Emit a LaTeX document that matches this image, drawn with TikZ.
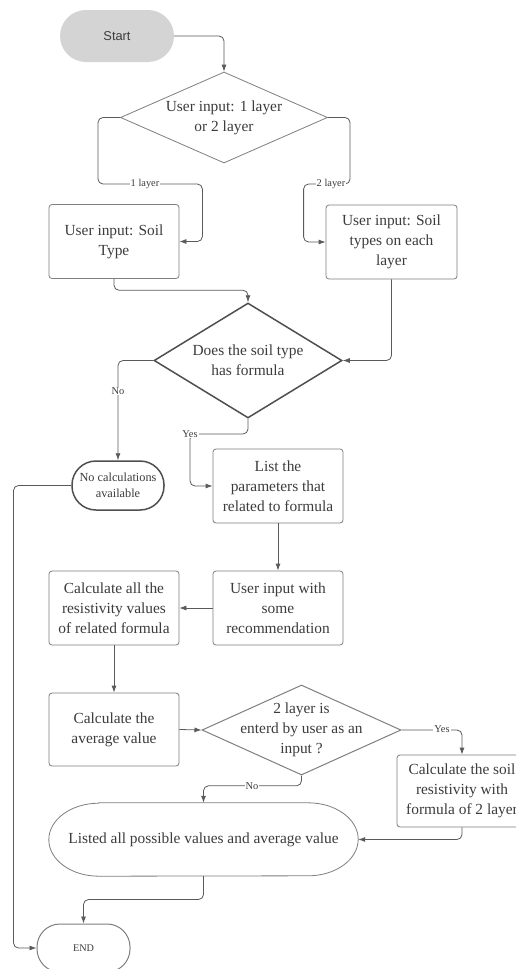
\documentclass[tikz,border=0pt]{standalone}
\usepackage{fontspec}
\setmainfont{Liberation Serif}
\setsansfont{Liberation Sans}
\usetikzlibrary{shapes.geometric,arrows.meta}
\definecolor{txt}{HTML}{3C3C3C}
\definecolor{boxc}{HTML}{7F7F7F}
\definecolor{darkc}{HTML}{4F4F4F}
\definecolor{linec}{HTML}{5A5A5A}
\definecolor{startgray}{HTML}{D4D4D4}
\tikzset{
  base/.style={font=\fontsize{15.4}{20}\selectfont, text=txt, align=center},
  box/.style={base, draw=boxc, line width=0.8pt, rounded corners=3pt,
    minimum width=130pt, minimum height=74pt, inner sep=0pt},
  dia/.style={diamond, draw=boxc, line width=0.8pt, inner sep=0pt},
  dtext/.style={base},
  arr/.style={draw=linec, line width=0.8pt, rounded corners=5pt,
    -{Latex[length=7pt,width=5pt]}},
  lbl/.style={font=\fontsize{10.4}{12}\selectfont, text=txt, fill=white,
    inner sep=1pt},
}
\begin{document}
\begin{tikzpicture}[x=1pt,y=1pt]
\fill[white] (0,0) rectangle (516,-969);
\useasboundingbox (0,0) rectangle (516,-969);

% terminals
\node[fill=startgray, rounded corners=26pt, minimum width=114pt, minimum height=52pt,
  font=\sffamily\fontsize{12.8}{15}\selectfont, text=txt] (start) at (117,-36) {Start};

% decision 1
\node[dia, minimum width=207pt, minimum height=91pt,
  label={[dtext]center:{User input: 1 layer\\or 2 layer}}] (d1) at (224,-117.5) {};

\node[box] (b1) at (114,-241.5) {User input: Soil\\Type};
\node[box, minimum width=131pt] (b2) at (391.5,-242) {User input: Soil\\types on each\\layer};

% decision 2
\node[dia, draw=darkc, line width=1.5pt, minimum width=188pt, minimum height=115pt,
  label={[dtext]center:{Does the soil type\\has formula}}] (d2) at (248,-360.5) {};

\node[draw=darkc, line width=1.5pt, rounded corners=24pt, minimum width=92pt,
  minimum height=49pt, inner sep=0pt, align=center, text=txt,
  font=\fontsize{12.3}{16}\selectfont] (nocalc) at (118,-485.5) {No calculations\\available};

\node[box] (b3) at (278,-486) {List the\\parameters that\\related to formula};
\node[box] (b4) at (278,-608) {User input with\\some\\recommendation};
\node[box] (b5) at (114,-608) {Calculate all the\\resistivity values\\of related formula};
\node[box, minimum height=73pt] (b6) at (114,-729.5) {Calculate the\\average value};

% decision 3
\node[dia, line width=1pt, minimum width=199pt, minimum height=90pt,
  label={[dtext]center:{2 layer is\\enterd by user as an\\input ?}}] (d3) at (301.5,-730) {};

\node[box, minimum height=72pt] (b7) at (462,-791) {Calculate the soil\\resistivity with\\formula of 2 layer};

% oval
\node[base, minimum width=309pt, minimum height=73pt, inner sep=0pt] (oval) at (203.5,-839.5)
  {Listed all possible values and average value};
\draw[draw=boxc, line width=0.8pt]
  ([xshift=50pt]oval.north west) -- ([xshift=-50pt]oval.north east)
  arc[start angle=90, end angle=-90, x radius=50pt, y radius=36.5pt]
  -- ([xshift=50pt]oval.south west)
  arc[start angle=270, end angle=90, x radius=50pt, y radius=36.5pt] -- cycle;

\node[draw=boxc, line width=1pt, rounded corners=23pt, minimum width=93pt,
  minimum height=48pt, inner sep=0pt, text=txt,
  font=\fontsize{10.2}{12}\selectfont] (end) at (83.5,-948) {END};

% connectors
\draw[arr] (start.east) -| (d1.north);
\draw[arr] (d1.west) -| (98,-184) -| ([xshift=23pt]b1.east) -- (b1.east);
\draw[arr] (d1.east) -| (350,-184) -| ([xshift=-22pt]b2.west) -- (b2.west);
\draw[arr] (b1.south) |- ([yshift=12pt]d2.north) -- (d2.north);
\draw[arr] (b2.south) |- (d2.east);
\draw[arr] (d2.west) -| (nocalc.north);
\draw[arr] (d2.south) |- (190,-434) |- (b3.west);
\draw[arr] (b3.south) -- (b4.north);
\draw[arr] (b4.west) -- (b5.east);
\draw[arr] (b5.south) -- (b6.north);
\draw[arr] (b6.east) -- (d3.west);
\draw[arr] (d3.east) -| (b7.north);
\draw[arr] (b7.south) |- (oval.east);
\draw[arr] (d3.south) |- ([yshift=17pt]oval.north) -- (oval.north);
\draw[arr] (oval.south) |- ([yshift=24pt]end.north) -- (end.north);
\draw[arr] (nocalc.west) -| ([xshift=-23pt]end.west) -- (end.west);

% labels
\node[lbl] (l1) at (145,-184) {1 layer};
\node[lbl] (l2) at (331,-184) {2 layer};
\node[lbl] (l3) at (118,-391) {No};
\node[lbl] (l4) at (190,-434) {Yes};
\node[lbl] (l5) at (442,-729.5) {Yes};
\node[lbl] (l6) at (252,-786) {No};
\end{tikzpicture}
\end{document}
